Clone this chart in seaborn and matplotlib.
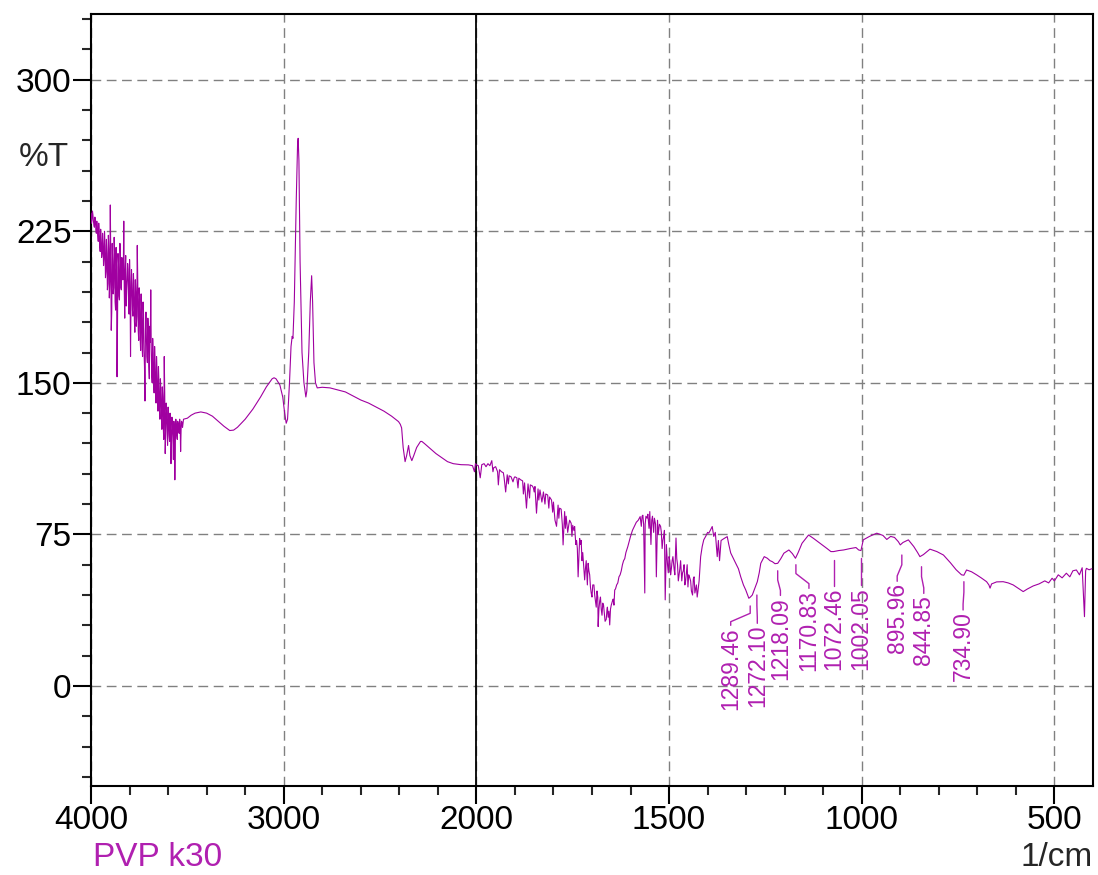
import numpy as np
import pandas as pd
import matplotlib
matplotlib.use("Agg")
import matplotlib.pyplot as plt
import seaborn as sns
from matplotlib.ticker import FixedLocator, MultipleLocator

# ---------------- data ----------------
# O-H region, 4000-3520 1/cm (noisy)
wn_oh = [4000, 3995, 3990, 3985, 3980, 3975, 3970, 3965, 3960, 3955, 3950, 3945, 3940, 3935,
         3930, 3925, 3920, 3915, 3910, 3905, 3900, 3895, 3890, 3885, 3880, 3875, 3870, 3865,
         3860, 3855, 3850, 3845, 3840, 3835, 3830, 3825, 3820, 3815, 3810, 3805, 3800, 3795,
         3790, 3785, 3780, 3775, 3770, 3765, 3760, 3755, 3750, 3745, 3740, 3735, 3730, 3725,
         3720, 3715, 3710, 3705, 3700, 3695, 3690, 3685, 3680, 3675, 3670, 3665, 3660, 3655,
         3650, 3645, 3640, 3635, 3630, 3625, 3620, 3615, 3610, 3605, 3600, 3595, 3590, 3585,
         3580, 3575, 3570, 3565, 3560, 3555, 3550, 3545, 3540, 3535, 3530, 3525]
t_oh = [234, 231, 233, 228, 232, 226, 230, 223, 229, 218, 226, 212, 224, 208,
        225, 202, 221, 196, 223, 192, 238, 176, 219, 194, 222, 190, 217, 153,
        214, 193, 219, 197, 212, 201, 230, 182, 213, 196, 209, 188, 211, 163,
        206, 186, 204, 181, 201, 178, 218, 176, 197, 172, 194, 168, 190, 166,
        141, 185, 163, 182, 158, 178, 196, 154, 172, 150, 168, 146, 163, 142,
        158, 137, 152, 134, 148, 128, 163, 115, 140, 126, 138, 124, 135, 110,
        133, 123, 131, 102, 132, 124, 131, 126, 132, 116, 131, 128]

# intermediate samples of the same noisy O-H band
wn_oh_mid = [3997.5, 3992.5, 3987.5, 3982.5, 3977.5, 3972.5, 3967.5, 3962.5, 3957.5, 3952.5,
             3947.5, 3942.5, 3937.5, 3932.5, 3927.5, 3922.5, 3917.5, 3912.5, 3907.5, 3902.5,
             3897.5, 3892.5, 3887.5, 3882.5, 3877.5, 3872.5, 3867.5, 3862.5, 3857.5, 3852.5,
             3847.5, 3842.5, 3837.5, 3832.5, 3827.5, 3822.5, 3817.5, 3812.5, 3807.5, 3802.5,
             3797.5, 3792.5, 3787.5, 3782.5, 3777.5, 3772.5, 3767.5, 3762.5, 3757.5, 3752.5,
             3747.5, 3742.5, 3737.5, 3732.5, 3727.5, 3722.5, 3717.5, 3712.5, 3707.5, 3702.5,
             3697.5, 3692.5, 3687.5, 3682.5, 3677.5, 3672.5, 3667.5, 3662.5, 3657.5, 3652.5,
             3647.5, 3642.5, 3637.5, 3632.5, 3627.5, 3622.5, 3617.5, 3612.5, 3607.5, 3602.5,
             3597.5, 3592.5, 3587.5, 3582.5, 3577.5, 3572.5, 3567.5, 3562.5, 3557.5, 3552.5,
             3547.5, 3542.5, 3537.5, 3532.5, 3527.5]
t_oh_mid = [229, 235, 230, 227, 231, 224, 227, 220, 225, 215,
            221, 214, 219, 211, 218, 205, 214, 199, 216, 200,
            212, 185, 210, 197, 213, 186, 207, 180, 209, 191,
            214, 196, 208, 205, 196, 206, 188, 201, 206, 184,
            200, 191, 199, 183, 198, 175, 195, 183, 200, 171,
            191, 166, 187, 163, 184, 158, 176, 172, 160, 176,
            152, 170, 168, 150, 165, 145, 160, 140, 156, 136,
            150, 132, 146, 127, 143, 122, 145, 125, 135, 119,
            132, 121, 130, 120, 129, 112, 127, 120, 129, 122,
            130, 125, 130, 127, 130]

# 3520-2000 1/cm (C-H stretch region)
wn_ch = [3520, 3500, 3480, 3460, 3430, 3400, 3370, 3340, 3310, 3280, 3260, 3240, 3200, 3160,
         3120, 3090, 3060, 3050, 3040, 3020, 3005, 2995, 2987, 2980, 2970, 2962, 2956, 2952,
         2945, 2935, 2928, 2925, 2921, 2915, 2905, 2895, 2885, 2880, 2870, 2862, 2855, 2850,
         2843, 2835, 2826, 2800, 2760, 2720, 2680, 2640, 2600, 2560, 2520, 2480, 2440, 2404,
         2395, 2388, 2380, 2370, 2362, 2352, 2345, 2335, 2325, 2310, 2290, 2283, 2270, 2240,
         2210, 2180, 2150, 2120, 2080, 2041, 2020, 2010, 2005]
t_ch = [132, 132.5, 134, 135, 135.6, 135, 133.5, 131, 128.5, 126.4, 126.6, 128, 132, 137,
        143, 148, 152, 152.5, 152, 149, 143, 135, 130, 132, 150, 168, 173, 172,
        190, 240, 268, 271, 260, 210, 165, 150, 143, 146, 165, 190, 203, 190,
        160, 150, 147.5, 147.8, 147.5, 146.5, 145.5, 143.5, 141.5, 140, 138, 136, 133.5, 130.8,
        129.5, 127.7, 118, 111, 114, 119, 114, 111.5, 114, 118, 121, 121, 120, 117.5,
        115, 113, 111, 110, 109.5, 109.4, 109, 106, 110]

# 2000-1340 1/cm (noisy, water vapour / amide band)
wn_amide = [2000, 1995, 1990, 1986, 1980, 1975, 1970, 1965, 1960, 1955, 1950, 1945, 1943, 1940,
            1935, 1930, 1924, 1920, 1915, 1910, 1905, 1900, 1895, 1890, 1885, 1880, 1875, 1870,
            1866, 1860, 1855, 1850, 1848, 1844, 1840, 1835, 1830, 1826, 1820, 1815, 1810, 1805,
            1800, 1796, 1792, 1788, 1784, 1780, 1775, 1771, 1767, 1763, 1758, 1754, 1750, 1745,
            1740, 1736, 1732, 1728, 1724, 1719, 1715, 1710, 1706, 1702, 1698, 1693, 1689, 1685,
            1684, 1680, 1676, 1672, 1668, 1663, 1660, 1656, 1654, 1650, 1645, 1641, 1636, 1630,
            1624, 1618, 1612, 1607, 1600, 1595, 1590, 1585, 1580, 1575, 1570, 1566, 1563, 1560,
            1555, 1550, 1547, 1543, 1538, 1533, 1530, 1525, 1520, 1516, 1512, 1510, 1507, 1504,
            1500, 1496, 1492, 1487, 1482, 1478, 1474, 1470, 1465, 1461, 1457, 1453, 1449, 1444,
            1439, 1435, 1431, 1427, 1422, 1418, 1414, 1410, 1405, 1400, 1397, 1393, 1388, 1384,
            1380, 1375, 1372, 1369, 1365, 1357, 1349, 1345]
t_amide = [109.4, 109, 103, 109.5, 110, 108.5, 110, 109, 111.5, 108, 108.5, 106, 99.5, 107,
           106, 105.5, 96, 104.5, 104, 103.5, 101, 103.5, 103, 102.8, 102, 101.5, 100.5, 88,
           100, 99.5, 99, 96, 98.7, 85.5, 97.5, 97, 91, 96, 95, 94.5, 93.5, 92,
           91, 82, 79, 89.5, 88, 87.5, 69.8, 86.3, 84, 76, 82, 80.5, 79.5, 78.9,
           72, 54, 73, 72, 66, 52.5, 62, 60.7, 55, 46, 50, 45, 39, 44,
           29.4, 42, 38, 41, 36, 33, 39, 37, 30.2, 40, 43, 47.5, 50, 54,
           57, 62, 66, 69, 74, 77, 79, 81, 82, 83.8, 84, 80, 46, 84,
           85, 86.3, 70, 84, 83, 54, 82, 80, 76, 72, 77, 42.6, 70, 60,
           64, 55, 62, 58, 73.2, 60, 55, 62, 56, 60, 52, 60, 55, 52,
           45, 54, 48, 44, 52, 64, 69, 72.3, 74, 76, 75.6, 77, 78.9, 74,
           76, 64, 72, 62, 72, 73, 73.9, 70]

# intermediate samples of the same noisy band
wn_amide_mid = [1957, 1928, 1917, 1902, 1892, 1878, 1862, 1852, 1838, 1822, 1812, 1802, 1786,
                1777, 1769, 1760, 1752, 1747, 1742, 1738, 1734, 1730, 1726, 1721, 1717, 1712,
                1708, 1704, 1700, 1695, 1691, 1687, 1682, 1678, 1674, 1670, 1666, 1661, 1658,
                1652, 1647, 1643, 1639, 1633, 1627, 1621, 1615, 1572, 1568, 1562, 1557, 1552,
                1545, 1540, 1535, 1528, 1522, 1518, 1514, 1502, 1498, 1494, 1490, 1485, 1480,
                1476, 1472, 1467, 1463, 1459, 1455, 1451, 1447, 1442, 1437, 1433, 1429, 1425]
t_amide_mid = [106, 103, 100, 103, 98, 95, 93, 98, 92, 90, 88, 86, 83,
               80, 78, 80, 74, 77, 70, 68, 64, 70, 62, 58, 58, 50,
               57, 49, 44, 50, 42, 47, 38, 44, 35, 40, 32, 38, 34,
               38, 42, 40, 48, 51, 55, 60, 63, 79, 84.5, 80, 83, 78,
               82, 76, 80, 75, 79, 68, 74, 56, 62, 58, 64, 55, 63,
               52, 58, 52, 57, 50, 56, 49, 54, 47, 53, 46, 50, 47]

# 1340-400 1/cm (fingerprint region)
wn_fp = [1340, 1333, 1327, 1320, 1314, 1307, 1301, 1293, 1289, 1284, 1278, 1271, 1266, 1262,
         1253, 1245, 1238, 1232, 1225, 1218, 1210, 1202, 1189, 1180, 1172, 1165, 1155, 1145,
         1138, 1125, 1108, 1090, 1080, 1073, 1060, 1047, 1030, 1015, 1008, 1002, 996, 980,
         961, 945, 935, 925, 915, 905, 900, 893, 879, 865, 855, 849, 840, 823,
         805, 788, 770, 755, 741, 735, 728, 715, 702, 690, 676, 670, 667, 663,
         650, 633, 620, 607, 595, 581, 570, 555, 540, 525, 515, 506, 500, 490,
         480, 469, 460, 452, 443, 435, 428, 422, 419, 417, 410, 403]
t_fp = [65.8, 63, 60.7, 58, 54, 50, 47.5, 43.4, 44, 45, 48, 51.6, 56, 60.7,
        64, 63.2, 62, 61.5, 60.5, 60.7, 63, 65.7, 67.3, 65.5, 63.2, 66, 70.6, 73,
        74.7, 73, 70.6, 68, 66.5, 66.5, 67, 67.3, 68, 68.5, 67.3, 67, 72.3, 74,
        75.6, 74.5, 72.5, 74, 73.5, 71.4, 69.8, 71, 72.3, 69, 66, 64, 65, 67.7,
        66.5, 64.8, 61, 57.5, 55, 54.8, 57.4, 56.5, 55, 53.5, 51.6, 50, 48.4, 50.5,
        51.5, 51.6, 51, 50, 48.5, 46.7, 48, 49.5, 50.5, 52, 51, 53.3, 52, 55,
        53.5, 55.8, 54, 57, 57.4, 55, 58.5, 34.3, 57, 58.2, 57.5, 58]

# annotated peaks
peak_wn = [1289.46, 1272.10, 1218.09, 1170.83, 1072.46, 1002.05, 895.96, 844.85, 734.90]
label_wn = [1340, 1271, 1211, 1137, 1072.46, 1002.05, 908, 839, 737]
label_top = [29.2, 30.2, 44.0, 47.5, 48.5, 49.0, 51.0, 45.0, 36.8]
leader_top = [39.6, 45.0, 57.0, 60.0, 62.4, 63.4, 64.8, 59.0, 51.6]

x_ticks = [4000, 3000, 2000, 1500, 1000, 500]
x_minor = [3800, 3600, 3400, 3200, 2800, 2600, 2400, 2200,
           1900, 1800, 1700, 1600, 1400, 1300, 1200, 1100, 900, 800, 700, 600]
y_ticks = [0, 75, 150, 225, 300]

sample_name = "PVP k30"
x_unit = "1/cm"
y_unit = "%T"

# ---------------- plot ----------------
sns.set_style("ticks")
plt.rcParams["font.family"] = ["Liberation Sans", "DejaVu Sans"]

purple = "#A000A0"
text_purple = "#B020B0"

df = pd.DataFrame({
    "wn": wn_oh + wn_oh_mid + wn_ch + wn_amide + wn_amide_mid + wn_fp,
    "T": t_oh + t_oh_mid + t_ch + t_amide + t_amide_mid + t_fp,
})
df = df.sort_values("wn", ascending=False).reset_index(drop=True)

fig = plt.figure(figsize=(10.98, 8.75), dpi=100)
ax = fig.add_axes([0.0829, 0.1017, 0.9954 - 0.0829, 0.984 - 0.1017])

sns.lineplot(data=df, x="wn", y="T", sort=False, estimator=None,
             color=purple, linewidth=0.8, ax=ax, zorder=3)


def fwd(x):
    x = np.asarray(x, dtype=float)
    return np.where(x > 2000, 2000 + (x - 2000) / 2.0, x)


def inv(y):
    y = np.asarray(y, dtype=float)
    return np.where(y > 2000, 2000 + (y - 2000) * 2.0, y)


ax.set_xscale("function", functions=(fwd, inv))
ax.set_xlim(4000, 400)
ax.set_ylim(-49.5, 332.5)

ax.xaxis.set_major_locator(FixedLocator(x_ticks))
ax.xaxis.set_minor_locator(FixedLocator(x_minor))
ax.set_xticklabels([str(v) for v in x_ticks])
ax.yaxis.set_major_locator(FixedLocator(y_ticks))
ax.yaxis.set_minor_locator(MultipleLocator(15))
ax.set_yticklabels([str(v) for v in y_ticks])

ax.tick_params(which="major", direction="out", length=13, width=1.5,
               labelsize=24, pad=1, colors="black")
ax.tick_params(which="minor", direction="out", length=6.5, width=1.5)

ax.grid(which="major", color="#808080", linestyle=(0, (7, 4)), linewidth=1.0)
ax.axvline(2000, color="black", linewidth=1.3, zorder=2)

for s in ax.spines.values():
    s.set_linewidth(1.5)
    s.set_color("black")

ax.set_xlabel("")
ax.set_ylabel("")

# peak labels with leader lines
for pk, lx, lt, ltop in zip(peak_wn, label_wn, label_top, leader_top):
    span = ltop - lt
    xs = [pk, pk, lx, lx]
    ys = [ltop, ltop - 0.35 * span, ltop - 0.75 * span, lt + 0.8]
    ax.plot(xs, ys, color=text_purple, linewidth=1.0, zorder=4)
    ax.text(lx, lt, f"{pk:.2f}", rotation=90, ha="center", va="top",
            fontsize=16.5, color=text_purple, zorder=5)

fig.text(44 / 1098, 1 - 158 / 875, y_unit, ha="center", va="center", fontsize=24)
fig.text(93 / 1098, 1 - 858 / 875, sample_name, ha="left", va="center",
         fontsize=24, color=text_purple)
fig.text(1093 / 1098, 1 - 858 / 875, x_unit, ha="right", va="center", fontsize=24)

fig.savefig("out.png", dpi=100)
